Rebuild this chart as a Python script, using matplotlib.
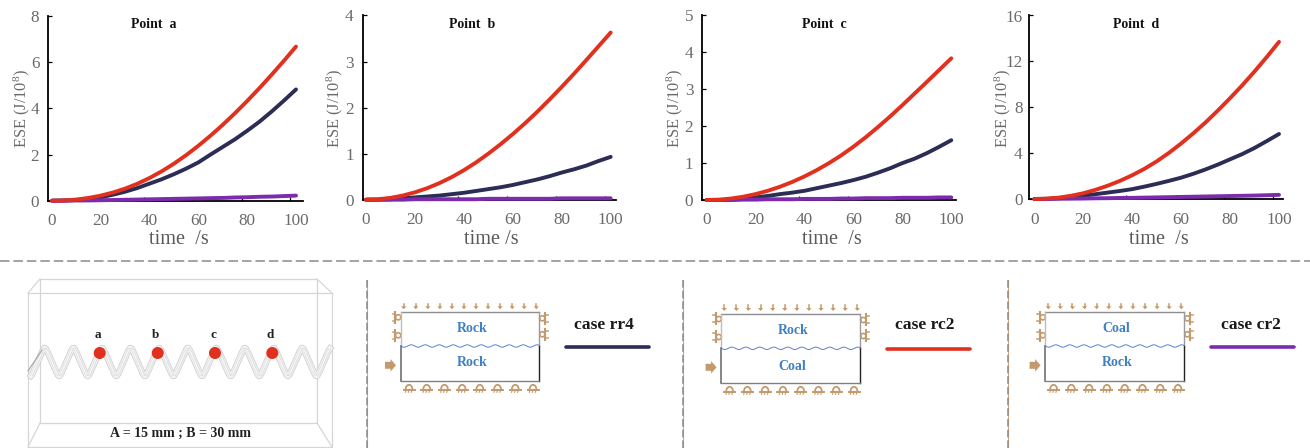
import numpy as np
import matplotlib
matplotlib.use("Agg")
import matplotlib.pyplot as plt
from matplotlib.patches import Polygon, Circle, Arc

plt.rcParams['font.family'] = ['Liberation Serif', 'DejaVu Serif']
plt.rcParams['mathtext.fontset'] = 'custom'
plt.rcParams['mathtext.rm'] = 'Liberation Serif'
plt.rcParams['mathtext.default'] = 'rm'

W, H = 1310, 448

time_s = [0, 5, 10, 15, 20, 25, 30, 35, 40, 45, 50, 55, 60, 65, 70, 75, 80, 85, 90, 95, 100]

a_rr = [0, 0.01, 0.03, 0.08, 0.15, 0.26, 0.39, 0.55, 0.74, 0.93, 1.15, 1.39, 1.66, 2.00, 2.33, 2.66, 3.03, 3.42, 3.86, 4.33, 4.82]
a_rc = [0, 0.01, 0.05, 0.12, 0.22, 0.355, 0.525, 0.735, 0.985, 1.275, 1.605, 1.975, 2.38, 2.82, 3.29, 3.79, 4.32, 4.875, 5.455, 6.055, 6.675]
a_cr = [0, 0, 0.01, 0.01, 0.02, 0.03, 0.04, 0.05, 0.06, 0.07, 0.08, 0.09, 0.10, 0.11, 0.12, 0.14, 0.15, 0.17, 0.18, 0.20, 0.22]

b_rr = [0, 0, 0.01, 0.03, 0.05, 0.07, 0.09, 0.12, 0.15, 0.19, 0.23, 0.27, 0.32, 0.38, 0.44, 0.51, 0.59, 0.66, 0.74, 0.84, 0.93]
b_rc = [0, 0.01, 0.04, 0.09, 0.16, 0.25, 0.36, 0.49, 0.64, 0.81, 1.00, 1.205, 1.425, 1.66, 1.91, 2.175, 2.45, 2.735, 3.03, 3.33, 3.63]
b_cr = [0, 0, 0, 0, 0.01, 0.01, 0.01, 0.01, 0.01, 0.01, 0.02, 0.02, 0.02, 0.02, 0.02, 0.02, 0.03, 0.03, 0.03, 0.03, 0.03]

c_rr = [0, 0, 0.01, 0.03, 0.07, 0.11, 0.16, 0.20, 0.25, 0.32, 0.39, 0.46, 0.54, 0.63, 0.74, 0.86, 1.00, 1.12, 1.27, 1.44, 1.62]
c_rc = [0, 0.01, 0.04, 0.09, 0.16, 0.25, 0.36, 0.49, 0.64, 0.81, 1.00, 1.21, 1.445, 1.70, 1.975, 2.265, 2.57, 2.885, 3.20, 3.52, 3.84]
c_cr = [0, 0, 0, 0.01, 0.01, 0.02, 0.02, 0.02, 0.03, 0.03, 0.03, 0.04, 0.04, 0.05, 0.05, 0.05, 0.06, 0.06, 0.06, 0.07, 0.07]

d_rr = [0, 0.02, 0.07, 0.16, 0.29, 0.42, 0.56, 0.70, 0.86, 1.08, 1.32, 1.58, 1.86, 2.20, 2.58, 3.00, 3.46, 3.92, 4.45, 5.05, 5.67]
d_rc = [0, 0.03, 0.12, 0.28, 0.50, 0.80, 1.16, 1.58, 2.07, 2.63, 3.28, 4.02, 4.84, 5.73, 6.68, 7.71, 8.79, 9.92, 11.12, 12.38, 13.70]
d_cr = [0, 0, 0.02, 0.03, 0.04, 0.06, 0.07, 0.09, 0.10, 0.12, 0.14, 0.16, 0.18, 0.20, 0.22, 0.24, 0.26, 0.28, 0.30, 0.33, 0.36]

x_tick_labels = [0, 20, 40, 60, 80, 100]
inner_ticks = [17.5, 37.6, 57.8, 77.7, 97.7]

NAVY, RED, PURPLE = '#2b2d55', '#e2301f', '#7b2bab'
GREY_TEXT = '#6a6a6a'
TAN = '#c49a6c'
BLUE = '#3f80c4'

panels = [
    ('Point  a', a_rr, a_cr, a_rc, [0, 2, 4, 6, 8], 48.3, 302.7, 16.0, 200.7, 52.0, 296.0, 6.5, 153.7, 'time  /s', 179, 240, 21.5),
    ('Point  b', b_rr, b_cr, b_rc, [0, 1, 2, 3, 4], 362.7, 616.0, 15.5, 199.7, 366.0, 610.7, 6.5, 471.7, 'time /s', 491, 239, 334.5),
    ('Point  c', c_rr, c_cr, c_rc, [0, 1, 2, 3, 4, 5], 701.7, 956.0, 15.5, 200.0, 706.7, 951.3, 6.0, 824.8, 'time  /s', 832, 239, 674.5),
    ('Point  d', d_rr, d_cr, d_rc, [0, 4, 8, 12, 16], 1029.3, 1283.3, 15.5, 199.0, 1034.3, 1279.0, 4.8, 1135.8, 'time  /s', 1159, 239, 1002.5),
]

fig = plt.figure(figsize=(W / 100, H / 100), dpi=100, facecolor='white')
ov = fig.add_axes([0, 0, 1, 1], zorder=5)
ov.set_xlim(0, W)
ov.set_ylim(H, 0)
ov.axis('off')
ov.patch.set_alpha(0)

for title, rr, cr, rc, yt, L, R, T, B, S, E, ypad, tx, xl, xlx, xly, ylx in panels:
    ax = fig.add_axes([L / W, 1 - B / H, (R - L) / W, (B - T) / H])
    k = (E - S) / 100
    ax.set_xlim((L - S) / k, (R - S) / k)
    ax.set_ylim(0, yt[-1])
    for ys, col in ((rr, NAVY), (cr, PURPLE), (rc, RED)):
        ax.plot(time_s, ys, color=col, lw=2.8, solid_capstyle='round',
                solid_joinstyle='round', clip_on=False, zorder=3)
    for s in ('top', 'right'):
        ax.spines[s].set_visible(False)
    for s in ('left', 'bottom'):
        ax.spines[s].set_linewidth(1.3)
        ax.spines[s].set_color('black')
    ax.set_yticks(yt)
    ax.tick_params(axis='y', direction='in', length=3, width=0.9, pad=ypad,
                   labelsize=12.3, labelcolor=GREY_TEXT)
    ax.set_xticks(x_tick_labels)
    ax.set_xticks(inner_ticks, minor=True)
    ax.tick_params(axis='x', which='major', length=0, pad=9.0,
                   labelsize=12.3, labelcolor=GREY_TEXT)
    ax.tick_params(axis='x', which='minor', direction='in', length=2.8, width=0.9)
    ax.patch.set_alpha(0)
    ov.text(tx, 24.5, title, fontsize=10, fontweight='bold', color='#111111', ha='center', va='center')
    ov.text(xlx, xly, xl, fontsize=14.6, color='#5a5a5a', ha='center', va='center')
    ov.text(ylx, 108.5, 'ESE (J/10$^{8}$)', fontsize=11.8, color=GREY_TEXT, rotation=90,
            ha='center', va='center')

# separators
ov.plot([0, W], [261, 261], color='#8a8a8a', lw=1.1, dashes=(6.2, 2.6))
for vx in (367, 683, 1008):
    ov.plot([vx, vx], [280, H], color='#d9a877', lw=0.8)
    ov.plot([vx, vx], [280, H], color='#8a8a8a', lw=1.1, dashes=(5, 2))

# 3D box
BOXC = '#d6d6d6'
for xs, ys in (([28, 332, 332, 28, 28], [293, 293, 447, 447, 293]),
               ([40, 317, 317, 40, 40], [279, 279, 423, 423, 279]),
               ([28, 40], [293, 279]), ([332, 317], [293, 279]),
               ([28, 40], [447, 423]), ([332, 317], [447, 423])):
    ov.plot(xs, ys, color=BOXC, lw=0.9)

# helix ribbon: rounded zigzag
hx = np.linspace(31, 330, 1500)
tri = np.arcsin(0.95 * np.cos(2 * np.pi * (hx - 102) / 28.6)) / np.arcsin(0.95)
hy = 362 - 14 * tri
ov.plot(hx, hy, color='#cfcfcf', lw=4.6, solid_joinstyle='round')
ov.plot(hx, hy, color='#f6f6f6', lw=3.4, solid_joinstyle='round')
ov.plot(hx + 1.2, hy, color='#dcdcdc', lw=0.6)
ov.plot(hx - 1.2, hy, color='#e2e2e2', lw=0.6)
ov.plot([28, 42], [371, 350], color='#a8a8a8', lw=0.9)

pts = [('a', 99.7), ('b', 157.7), ('c', 215.0), ('d', 272.3)]
for name, px in pts:
    ov.add_patch(Circle((px, 353), 6, color='#e2301f', lw=0, zorder=6))
    ov.text(px - 2, 335.5, name, fontsize=9.5, fontweight='bold', color='#222222', ha='center', va='center')
ov.text(181, 433.5, 'A = 15 mm ; B = 30 mm', fontsize=10, fontweight='bold', color='#222222', ha='center', va='center')


def support(xc, yc, horizontal=True, flip=1):
    if horizontal:
        ov.plot([xc - 5.5, xc + 5.5], [yc, yc], color=TAN, lw=1.4)
        ov.add_patch(Arc((xc, yc - 0.5), 7, 10, theta1=180, theta2=360, color=TAN, lw=1.3))
        for d in (-3, 0, 3):
            ov.plot([xc + d, xc + d - 0.7], [yc, yc + 2], color=TAN, lw=0.8)
    else:
        ov.plot([xc, xc], [yc - 5.5, yc + 5.5], color=TAN, lw=1.5)
        ov.add_patch(Circle((xc + flip * 3.0, yc), 2.6, fill=False, ec=TAN, lw=1.2))
        for d in (-3.5, 3.5):
            ov.plot([xc - flip * 2.5, xc], [yc + d, yc + d], color=TAN, lw=1.1)


def schematic(L, R, T, Bo, M, upper, lower, uy, ly, ux, lx):
    ov.plot([L, R], [T, T], color='#8d8d8d', lw=1.0)
    ov.plot([L, L], [T, M], color='#bdbdbd', lw=1.0)
    ov.plot([R, R], [T, M], color='#9a9a9a', lw=1.0)
    ov.plot([L, L], [M, Bo], color='#666666', lw=1.1)
    ov.plot([R, R], [M, Bo], color='#222222', lw=1.0)
    ov.plot([L, R], [Bo, Bo], color='#808080', lw=1.0)
    wx = np.linspace(L, R, 300)
    ov.plot(wx, M + 1.2 * np.sin(2 * np.pi * (wx - L) / 14.0), color='#5f7fd0', lw=0.7)
    for x in np.linspace(L + 3, R - 3, 12):
        ov.plot([x, x], [T - 8.5, T - 5], color=TAN, lw=1.1)
        ov.add_patch(Polygon([[x - 2.6, T - 6], [x + 2.6, T - 6], [x, T - 3]], color=TAN, lw=0))
    for x in np.linspace(L + 8.3, R - 6.3, 8):
        support(x, Bo + 9.3, True)
    for y in (T + 5, T + 23):
        support(L - 5.5, y, False, 1)
    for y in (T + 6, T + 22):
        support(R + 6, y, False, -1)
    ay = Bo - 15.7
    ax0 = L - 15.7
    ov.add_patch(Polygon([[ax0, ay - 3.5], [ax0 + 5.5, ay - 3.5], [ax0 + 5.5, ay - 6.3], [ax0 + 11, ay],
                          [ax0 + 5.5, ay + 6.3], [ax0 + 5.5, ay + 3.5], [ax0, ay + 3.5]], color=TAN, lw=0))
    ov.text(ux, uy, upper, fontsize=10, fontweight='bold', color=BLUE, ha='center', va='center')
    ov.text(lx, ly, lower, fontsize=10, fontweight='bold', color=BLUE, ha='center', va='center')


schematic(400.7, 539.3, 312.3, 381, 346, 'Rock', 'Rock', 329, 362, 472.5, 472.5)
schematic(721.3, 860.3, 314, 383, 348.3, 'Rock', 'Coal', 330, 367, 793, 792)
schematic(1045.3, 1184.3, 312.3, 381, 346, 'Coal', 'Rock', 329, 362, 1116, 1117)

for label, lx, xa, xb, ly, col in (('case rr4', 604, 566, 649.3, 347, NAVY),
                                   ('case rc2', 924.7, 886.7, 970, 348.7, RED),
                                   ('case cr2', 1251, 1210.7, 1294.3, 347, PURPLE)):
    ov.text(lx, 325, label, fontsize=12.6, fontweight='bold', color='#1a1a1a', ha='center', va='center')
    ov.plot([xa, xb], [ly, ly], color=col, lw=2.6, solid_capstyle='round')

fig.savefig('out.png', dpi=100, facecolor='white')
